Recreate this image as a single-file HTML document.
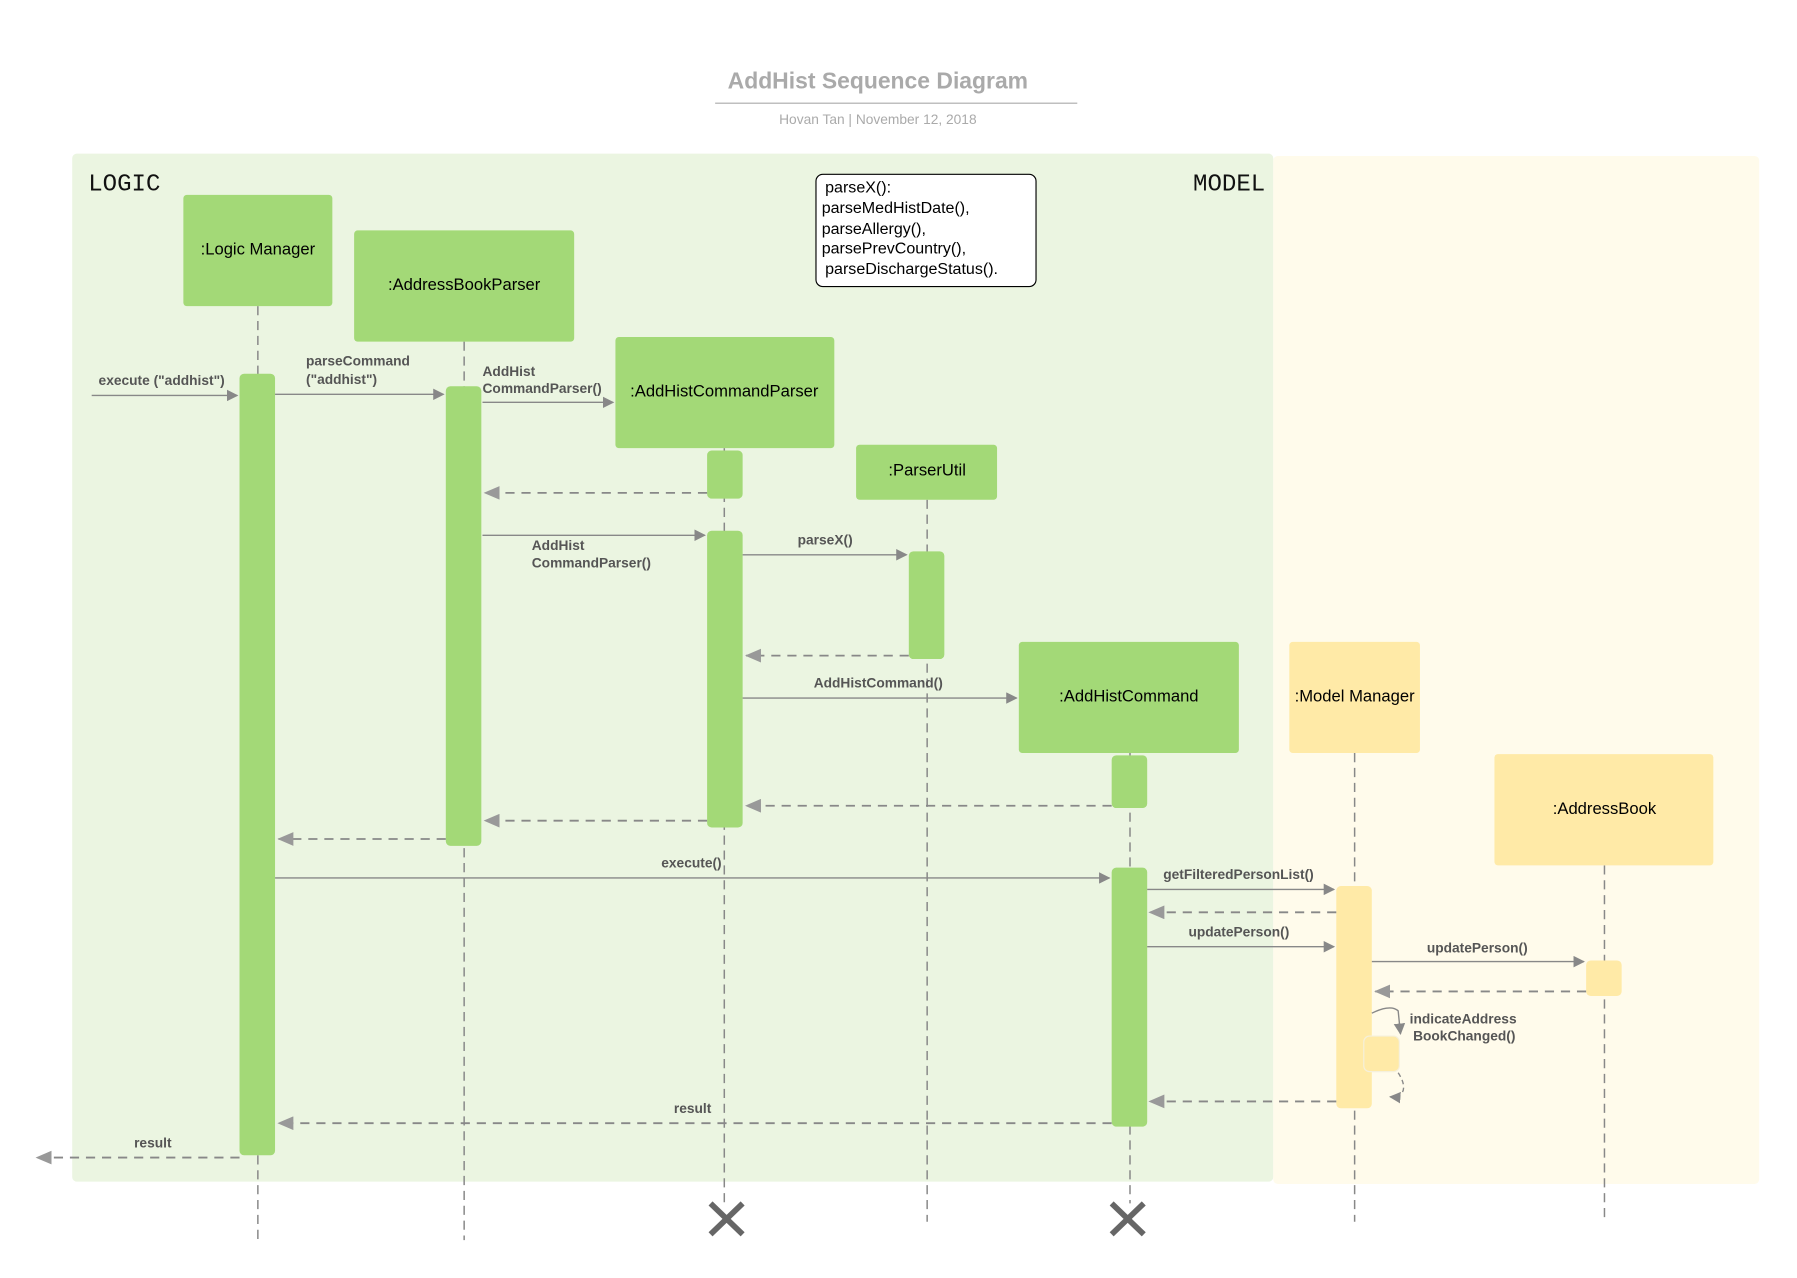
<!DOCTYPE html>
<html><head><meta charset="utf-8"><style>html,body{margin:0;padding:0;background:#fff}svg{display:block}</style></head><body>
<svg width="1797" height="1278" viewBox="0 0 1568 1115" xmlns="http://www.w3.org/2000/svg" font-family="Liberation Sans, sans-serif">
<defs>
<marker id="a" markerWidth="10" markerHeight="10" refX="9" refY="5" orient="auto" markerUnits="userSpaceOnUse"><path d="M0,0 L10,5 L0,10 z" fill="#888"/></marker>
<marker id="b" markerWidth="14" markerHeight="12" refX="13" refY="6" orient="auto" markerUnits="userSpaceOnUse"><path d="M0,0 L14,6 L0,12 z" fill="#999"/></marker>
</defs>
<rect width="1568" height="1115" fill="#fff"/>
<text x="766" y="77" text-anchor="middle" font-size="20" font-weight="bold" fill="#aaa">AddHist Sequence Diagram</text>
<line x1="624" y1="90" x2="940" y2="90" stroke="#aaa"/>
<text x="766" y="108" text-anchor="middle" font-size="12" fill="#aaa">Hovan Tan  |  November 12, 2018</text>
<rect x="63" y="134" width="1048" height="897" rx="4" fill="#ebf5e1"/>
<rect x="1111" y="136" width="424" height="897" rx="4" fill="#fffbeb"/>
<text x="77" y="166" font-family="Liberation Mono, monospace" font-size="21" fill="#111">LOGIC</text>
<text x="1041" y="166" font-family="Liberation Mono, monospace" font-size="21" fill="#111">MODEL</text>
<rect x="712" y="152" width="192" height="98" rx="6" fill="#fff" stroke="#000"/>
<g font-size="14" fill="#000"><text x="720" y="168">parseX():</text><text x="717" y="186">parseMedHistDate(),</text><text x="717" y="204">parseAllergy(),</text><text x="717" y="221">parsePrevCountry(),</text><text x="720" y="239">parseDischargeStatus().</text></g>
<g stroke="#888" stroke-dasharray="8,5" stroke-width="1.3">
<line x1="225" y1="267" x2="225" y2="1082"/><line x1="405" y1="298" x2="405" y2="1082"/><line x1="632" y1="391" x2="632" y2="1050"/><line x1="809" y1="436" x2="809" y2="1066"/><line x1="986" y1="657" x2="986" y2="1050"/><line x1="1182" y1="657" x2="1182" y2="1066"/><line x1="1400" y1="755" x2="1400" y2="1066"/></g>
<g fill="#a3d977">
<rect x="160" y="170" width="130" height="97" rx="3"/><rect x="309" y="201" width="192" height="97" rx="3"/><rect x="537" y="294" width="191" height="97" rx="3"/><rect x="747" y="388" width="123" height="48" rx="3"/><rect x="889" y="560" width="192" height="97" rx="3"/>
<rect x="209" y="326" width="31" height="682" rx="4"/><rect x="389" y="337" width="31" height="401" rx="4"/><rect x="617" y="393" width="31" height="42" rx="4"/><rect x="617" y="463" width="31" height="259" rx="4"/><rect x="793" y="481" width="31" height="94" rx="4"/><rect x="970" y="659" width="31" height="46" rx="4"/><rect x="970" y="757" width="31" height="226" rx="4"/></g>
<g fill="#ffeaa7">
<rect x="1125" y="560" width="114" height="97" rx="3"/><rect x="1304" y="658" width="191" height="97" rx="3"/>
<rect x="1166" y="773" width="31" height="194" rx="4"/><rect x="1384" y="838" width="31" height="31" rx="4"/><rect x="1190" y="904" width="31" height="31" rx="5" stroke="#f5f0dc"/></g>
<g font-size="14.5" fill="#000" text-anchor="middle">
<text x="225" y="222">:Logic Manager</text><text x="405" y="253">:AddressBookParser</text><text x="632" y="346">:AddHistCommandParser</text><text x="809" y="415">:ParserUtil</text><text x="985" y="612">:AddHistCommand</text><text x="1182" y="612">:Model Manager</text><text x="1400" y="710">:AddressBook</text></g>
<g stroke="#888" stroke-width="1.2" fill="none" marker-end="url(#a)">
<line x1="80" y1="345" x2="207" y2="345"/><line x1="240" y1="344" x2="387" y2="344"/><line x1="421" y1="351" x2="535" y2="351"/><line x1="421" y1="467" x2="615" y2="467"/><line x1="648" y1="484" x2="791" y2="484"/><line x1="648" y1="609" x2="887" y2="609"/><line x1="240" y1="766" x2="968" y2="766"/><line x1="1001" y1="776" x2="1164" y2="776"/><line x1="1001" y1="826" x2="1164" y2="826"/><line x1="1197" y1="839" x2="1382" y2="839"/>
<path d="M1197,884 C1205,880 1215,877 1220,882 L1222,902"/></g>
<g stroke="#888" stroke-width="1.6" stroke-dasharray="8,6" fill="none" marker-end="url(#b)">
<line x1="617" y1="430" x2="423" y2="430"/><line x1="793" y1="572" x2="651" y2="572"/><line x1="970" y1="703" x2="651" y2="703"/><line x1="617" y1="716" x2="423" y2="716"/><line x1="389" y1="732" x2="243" y2="732"/><line x1="1166" y1="796" x2="1003" y2="796"/><line x1="1384" y1="865" x2="1200" y2="865"/><line x1="1166" y1="961" x2="1003" y2="961"/><line x1="970" y1="980" x2="243" y2="980"/><line x1="209" y1="1010" x2="32" y2="1010"/></g>
<path d="M1220,936 C1228,948 1226,958 1213,957" stroke="#888" stroke-width="1.2" stroke-dasharray="4,3" fill="none" marker-end="url(#a)"/>
<g font-size="12" font-weight="bold" fill="#555">
<text x="86" y="336">execute ("addhist")</text><text x="267" y="319">parseCommand</text><text x="267" y="335">("addhist")</text><text x="421" y="328">AddHist</text><text x="421" y="343">CommandParser()</text><text x="464" y="480">AddHist</text><text x="464" y="495">CommandParser()</text><text x="696" y="475">parseX()</text><text x="710" y="600">AddHistCommand()</text><text x="577" y="757">execute()</text><text x="1015" y="767">getFilteredPersonList()</text><text x="1037" y="817">updatePerson()</text><text x="1245" y="831">updatePerson()</text><text x="1230" y="893">indicateAddress</text><text x="1233" y="908">BookChanged()</text><text x="588" y="971">result</text><text x="117" y="1001">result</text></g>
<g stroke="#666" stroke-width="5"><line x1="620" y1="1050" x2="648" y2="1077"/><line x1="648" y1="1050" x2="620" y2="1077"/><line x1="970" y1="1050" x2="998" y2="1077"/><line x1="998" y1="1050" x2="970" y2="1077"/></g>
</svg>
</body></html>
